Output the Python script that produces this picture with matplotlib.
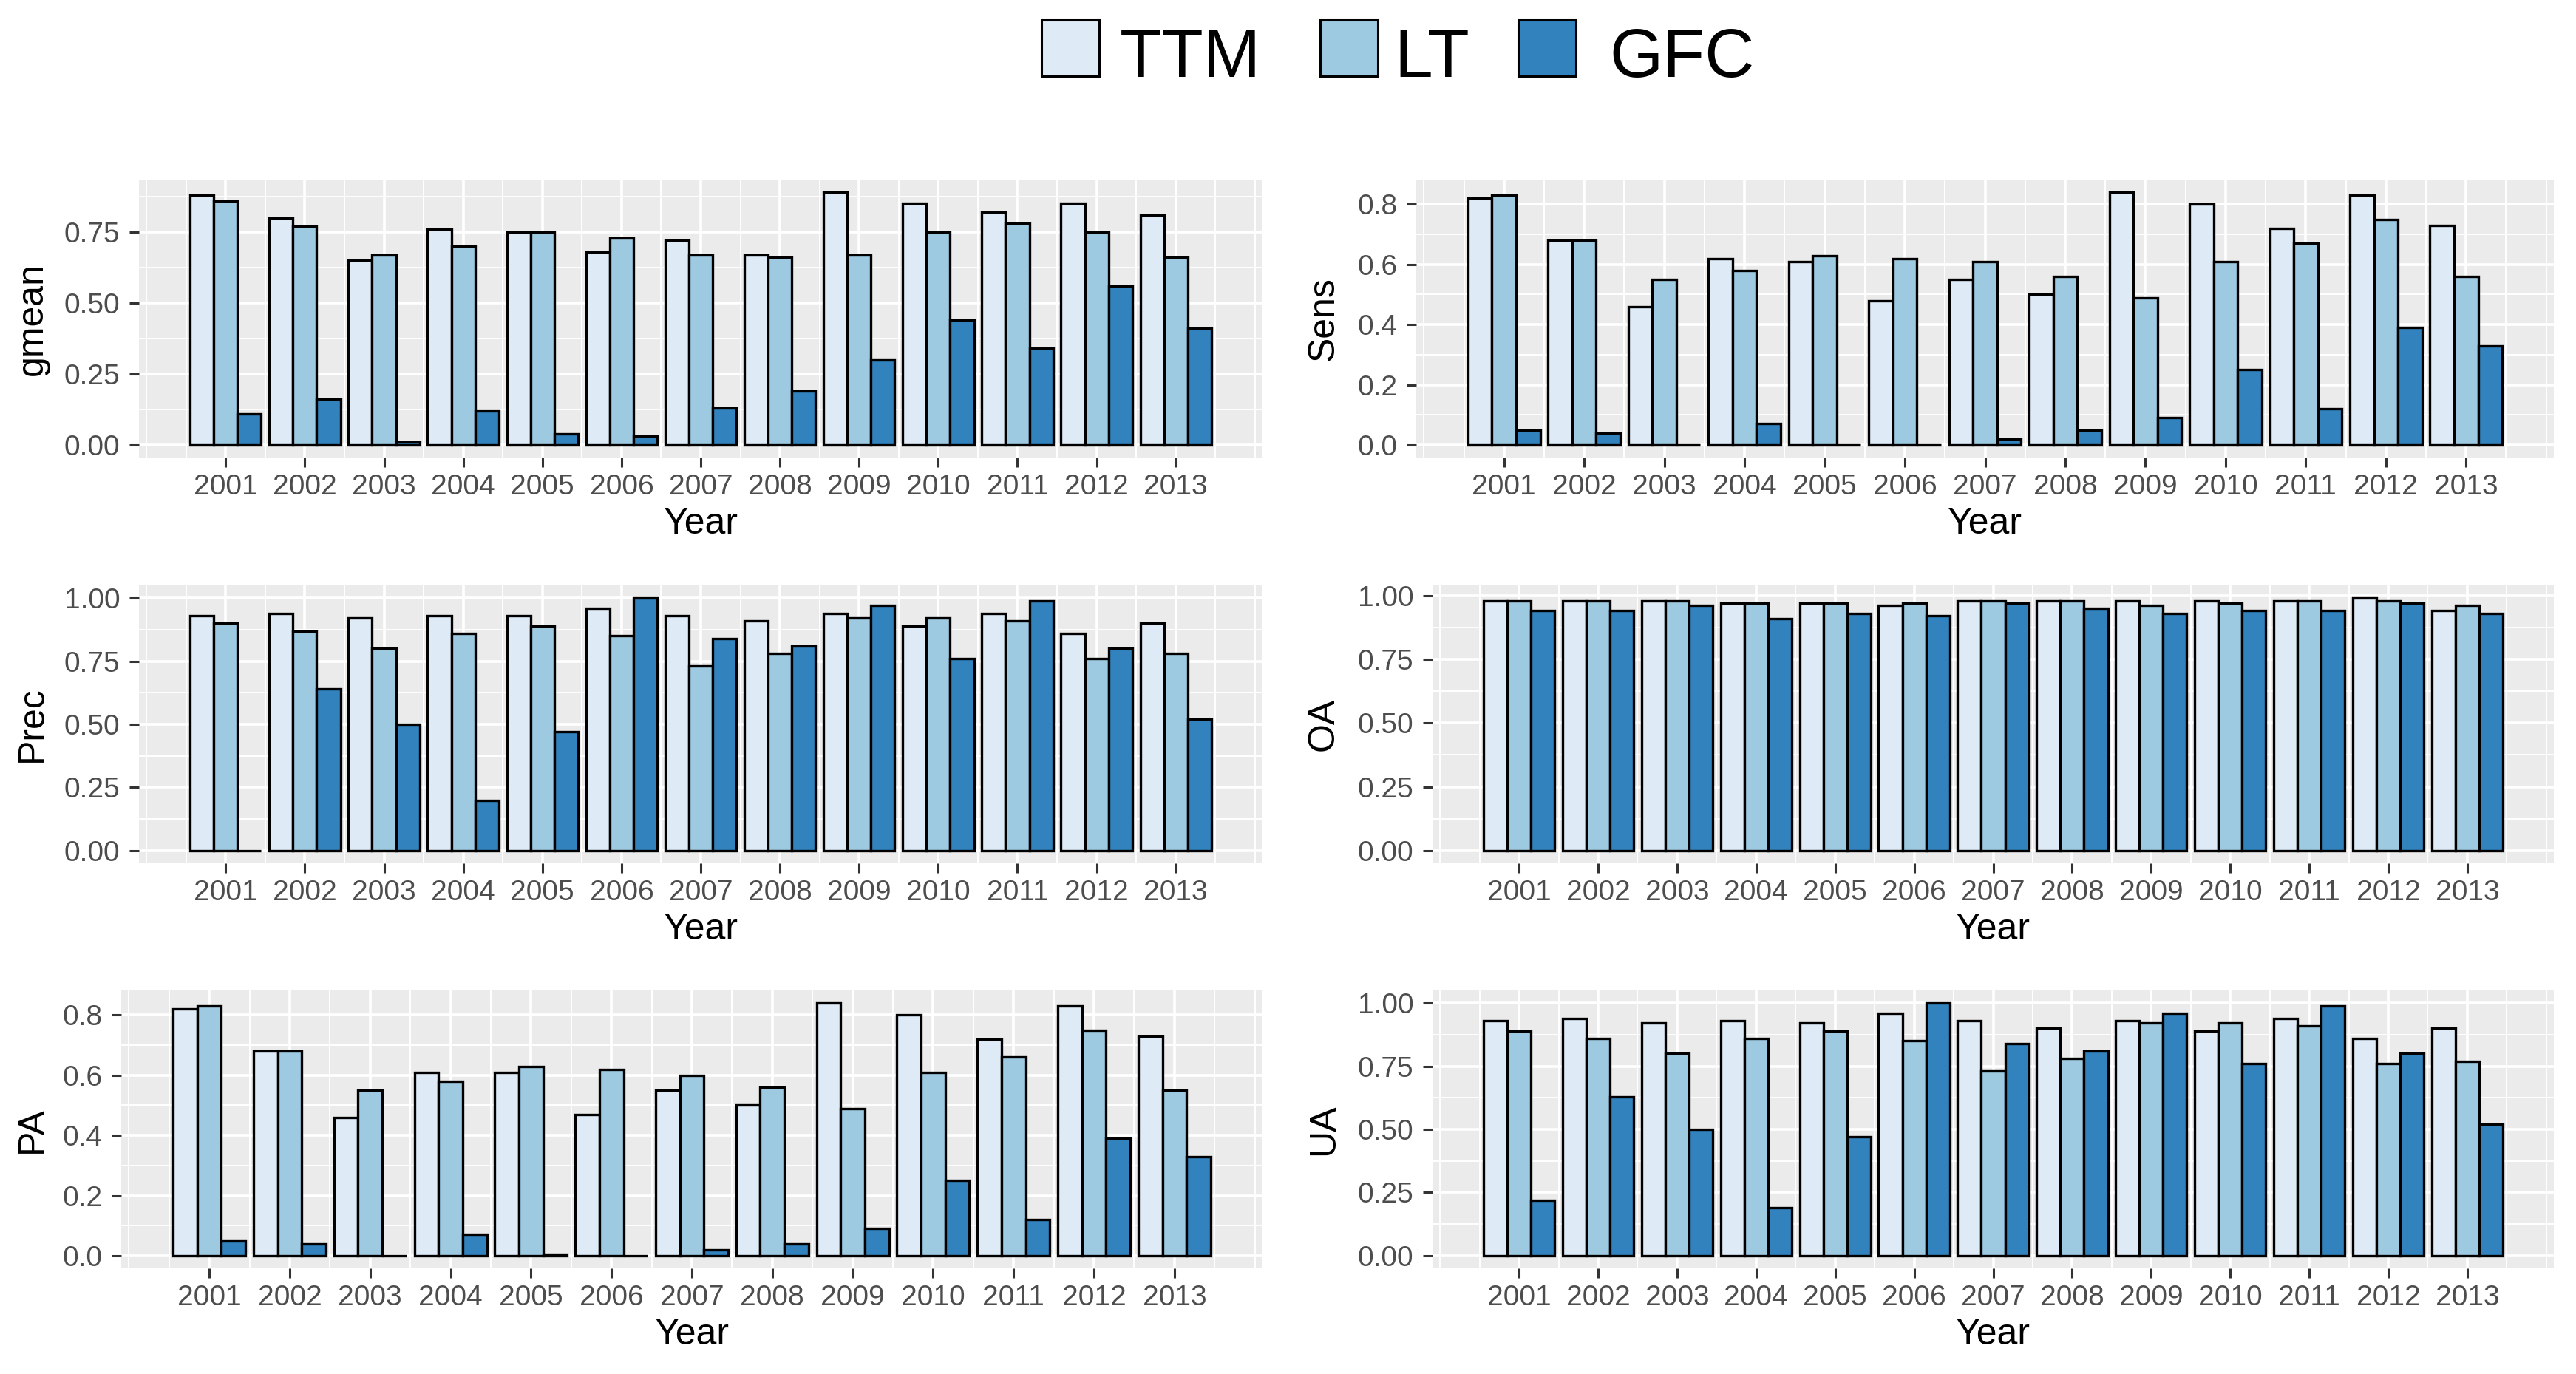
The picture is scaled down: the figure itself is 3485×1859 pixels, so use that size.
import numpy as np
import matplotlib
matplotlib.use("Agg")
import matplotlib.pyplot as plt
from matplotlib.patches import Rectangle
from matplotlib.ticker import FixedLocator, FormatStrFormatter

plt.rcParams['font.family'] = ['Liberation Sans', 'DejaVu Sans']

# --- Data ---
years = np.arange(2001, 2014)
methods = ["TTM", "LT", "GFC"]
colors = ["#DEEBF7", "#9ECAE1", "#3182BD"]

gmean_ttm = [0.88, 0.80, 0.65, 0.76, 0.75, 0.68, 0.72, 0.67, 0.89, 0.85, 0.82, 0.85, 0.81]
gmean_lt = [0.86, 0.77, 0.67, 0.70, 0.75, 0.73, 0.67, 0.66, 0.67, 0.75, 0.78, 0.75, 0.66]
gmean_gfc = [0.11, 0.16, 0.01, 0.12, 0.04, 0.03, 0.13, 0.19, 0.30, 0.44, 0.34, 0.56, 0.41]

sens_ttm = [0.82, 0.68, 0.46, 0.62, 0.61, 0.48, 0.55, 0.50, 0.84, 0.80, 0.72, 0.83, 0.73]
sens_lt = [0.83, 0.68, 0.55, 0.58, 0.63, 0.62, 0.61, 0.56, 0.49, 0.61, 0.67, 0.75, 0.56]
sens_gfc = [0.05, 0.04, 0.00, 0.07, 0.00, 0.00, 0.02, 0.05, 0.09, 0.25, 0.12, 0.39, 0.33]

prec_ttm = [0.93, 0.94, 0.92, 0.93, 0.93, 0.96, 0.93, 0.91, 0.94, 0.89, 0.94, 0.86, 0.90]
prec_lt = [0.90, 0.87, 0.80, 0.86, 0.89, 0.85, 0.73, 0.78, 0.92, 0.92, 0.91, 0.76, 0.78]
prec_gfc = [0.00, 0.64, 0.50, 0.20, 0.47, 1.00, 0.84, 0.81, 0.97, 0.76, 0.99, 0.80, 0.52]

oa_ttm = [0.98, 0.98, 0.98, 0.97, 0.97, 0.96, 0.98, 0.98, 0.98, 0.98, 0.98, 0.99, 0.94]
oa_lt = [0.98, 0.98, 0.98, 0.97, 0.97, 0.97, 0.98, 0.98, 0.96, 0.97, 0.98, 0.98, 0.96]
oa_gfc = [0.94, 0.94, 0.96, 0.91, 0.93, 0.92, 0.97, 0.95, 0.93, 0.94, 0.94, 0.97, 0.93]

pa_ttm = [0.82, 0.68, 0.46, 0.61, 0.61, 0.47, 0.55, 0.50, 0.84, 0.80, 0.72, 0.83, 0.73]
pa_lt = [0.83, 0.68, 0.55, 0.58, 0.63, 0.62, 0.60, 0.56, 0.49, 0.61, 0.66, 0.75, 0.55]
pa_gfc = [0.05, 0.04, 0.00, 0.07, 0.005, 0.00, 0.02, 0.04, 0.09, 0.25, 0.12, 0.39, 0.33]

ua_ttm = [0.93, 0.94, 0.92, 0.93, 0.92, 0.96, 0.93, 0.90, 0.93, 0.89, 0.94, 0.86, 0.90]
ua_lt = [0.89, 0.86, 0.80, 0.86, 0.89, 0.85, 0.73, 0.78, 0.92, 0.92, 0.91, 0.76, 0.77]
ua_gfc = [0.22, 0.63, 0.50, 0.19, 0.47, 1.00, 0.84, 0.81, 0.96, 0.76, 0.99, 0.80, 0.52]

# --- Layout (pixels: left, right, top, bottom), y-label x, y step, tick format ---
W, H = 3485, 1859
panels = [
    ("gmean", [gmean_ttm, gmean_lt, gmean_gfc], (188, 1708, 243, 619), 44, 0.25, "%.2f"),
    ("Sens", [sens_ttm, sens_lt, sens_gfc], (1916, 3455, 243, 619), 1791, 0.2, "%.1f"),
    ("Prec", [prec_ttm, prec_lt, prec_gfc], (188, 1708, 792, 1168), 44, 0.25, "%.2f"),
    ("OA", [oa_ttm, oa_lt, oa_gfc], (1938, 3455, 792, 1168), 1791, 0.25, "%.2f"),
    ("PA", [pa_ttm, pa_lt, pa_gfc], (164, 1708, 1340, 1716), 44, 0.2, "%.1f"),
    ("UA", [ua_ttm, ua_lt, ua_gfc], (1938, 3455, 1340, 1716), 1791, 0.25, "%.2f"),
]

bar_w = 0.3
fig = plt.figure(figsize=(W / 100, H / 100), dpi=100)

for name, series, (l, r, t, b), ylab_x, step, fmt in panels:
    ax = fig.add_axes([l / W, 1 - b / H, (r - l) / W, (b - t) / H])
    ax.set_facecolor("#EBEBEB")

    for i, vals in enumerate(series):
        ax.bar(years + (i - 1) * bar_w, vals, width=bar_w, color=colors[i],
               edgecolor="black", linewidth=2.4, zorder=3)

    # ggplot-like expansion (5%)
    xmin = years[0] - 1.5 * bar_w
    xmax = years[-1] + 1.5 * bar_w
    dx = (xmax - xmin) * 0.05
    ax.set_xlim(xmin - dx, xmax + dx)
    ymax = max(max(s) for s in series)
    ytop = 1.05 * ymax
    ax.set_ylim(-0.05 * ymax, ytop)

    ymaj = np.arange(0, ytop + 1e-9, step)
    ymaj = ymaj[ymaj <= ytop]
    ymin_ = np.arange(step / 2, ytop, step)
    ax.yaxis.set_major_locator(FixedLocator(ymaj))
    ax.yaxis.set_minor_locator(FixedLocator(ymin_))
    ax.yaxis.set_major_formatter(FormatStrFormatter(fmt))
    ax.xaxis.set_major_locator(FixedLocator(years))
    ax.xaxis.set_minor_locator(FixedLocator(np.arange(2000, 2014.01, 0.5)))

    ax.grid(which="major", color="white", linewidth=2.6, zorder=0)
    ax.grid(which="minor", color="white", linewidth=1.4, zorder=0)
    ax.set_axisbelow(True)
    for sp in ax.spines.values():
        sp.set_visible(False)

    ax.tick_params(which="major", length=9.6, width=2.2, color="#333333",
                   labelsize=28, labelcolor="#4D4D4D")
    ax.tick_params(axis="x", pad=6.5)
    ax.tick_params(axis="y", pad=9)
    ax.tick_params(which="minor", length=0)

    ax.set_ylabel(name, fontsize=36, va="center")
    ax.yaxis.set_label_coords((ylab_x - l) / (r - l), 0.5)
    ax.set_xlabel("Year", fontsize=36, va="center")
    ax.xaxis.set_label_coords(0.5, -90 / (b - t))

# --- Legend across the top (key boxes + labels) ---
key_x = [1409, 1786, 2054]
text_x = [1515, 1886, 2177]
key_top, key_bottom, key_w = 27, 103, 78
for m, c, kx, tx in zip(methods, colors, key_x, text_x):
    fig.add_artist(Rectangle((kx / W, 1 - key_bottom / H), key_w / W, (key_bottom - key_top) / H,
                             transform=fig.transFigure, facecolor=c, edgecolor="black",
                             linewidth=2.2))
    fig.text(tx / W, 1 - 104 / H, m, fontsize=67, ha="left", va="baseline", color="black")

fig.savefig("out.png", dpi=100)
